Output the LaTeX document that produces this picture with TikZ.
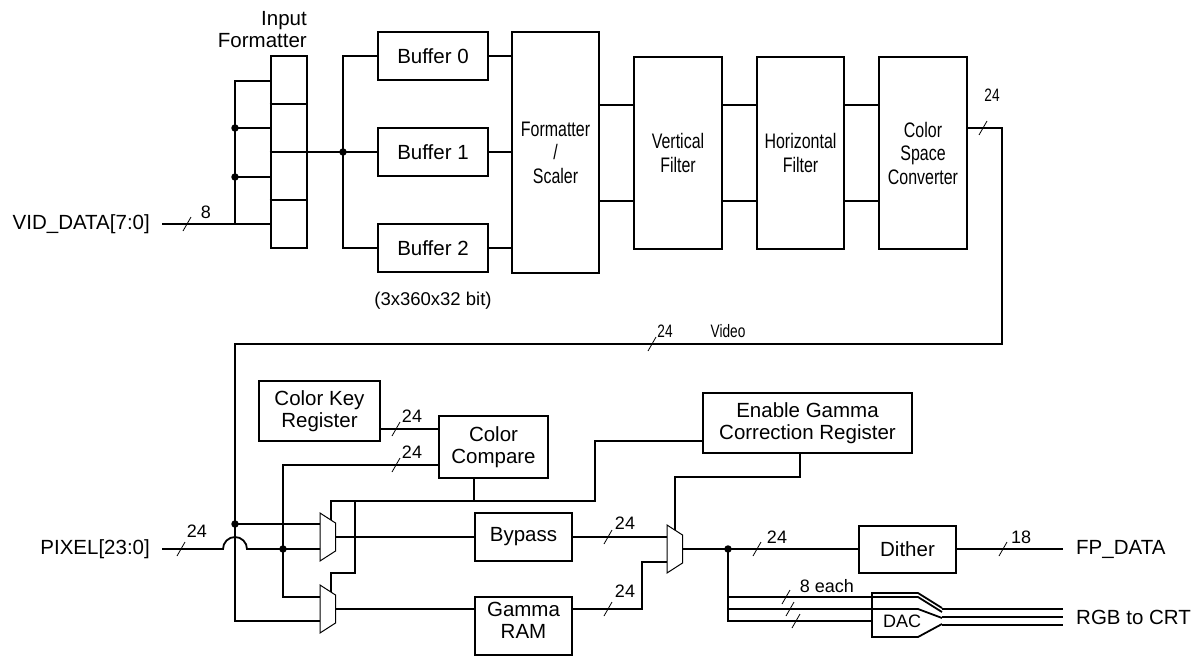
\documentclass[tikz,border=0pt]{standalone}
\usepackage{fontspec}
\setmainfont{Liberation Sans}
\newfontfamily\narrowfont{Liberation Sans}[FakeStretch=0.76]
\newcommand\mkslash[1]{\draw[busmark] #1 ++(-4,7) -- ++(8,-14);}
\newcommand\drawmux[2]{\draw[muxline] (#1,#2-24) -- (#1+15.5,#2-14) -- (#1+15.5,#2+14) -- (#1,#2+24) -- cycle;}
\begin{document}
\begin{tikzpicture}[x=1pt,y=-1pt,
  box/.style={draw, line width=2.6pt, inner sep=0pt, align=center, font=\fontsize{20.5}{22}\selectfont},
  bigbox/.style={draw, line width=2.6pt, inner sep=0pt, align=center, font=\narrowfont\fontsize{21}{23.5}\selectfont},
  wire/.style={line width=1.8pt},
  thinwire/.style={line width=1.1pt},
  muxline/.style={line width=1pt, line join=miter},
  busmark/.style={line width=0.8pt},
  lbl/.style={font=\fontsize{18}{20}\selectfont, inner sep=0pt},
  nlbl/.style={font=\narrowfont\fontsize{18}{20}\selectfont, inner sep=0pt},
  txt/.style={font=\fontsize{20.5}{22}\selectfont, inner sep=0pt},
  junction/.style={circle, fill, inner sep=0pt, minimum size=7.5pt}
]
\useasboundingbox (0,0) rectangle (1197,656);

% ---------------- upper part ----------------
\node[box, minimum width=36pt, minimum height=192pt] (ifmt) at (289,152) {};
\foreach \yy in {104,152,200}
  \draw[line width=2.6pt] (ifmt.west |- 0,\yy) -- (ifmt.east |- 0,\yy);
\node[txt, align=right, anchor=east] (iflbl) at (307,29.5) {Input\\Formatter};

\node[box, minimum width=110pt, minimum height=48pt] (buf0) at (433,56) {Buffer 0};
\node[box, minimum width=110pt, minimum height=48pt] (buf1) at (433,152) {Buffer 1};
\node[box, minimum width=110pt, minimum height=48pt] (buf2) at (433,248) {Buffer 2};
\node[lbl, font=\fontsize{18.5}{20}\selectfont] (bufsz) at (433,301) {(3x360x32 bit)};

\node[bigbox, minimum width=87pt, minimum height=241pt] (fs) at (555.5,152.5) {Formatter\\/\\Scaler};
\node[bigbox, minimum width=88pt, minimum height=192pt] (vf) at (678,153) {Vertical\\Filter};
\node[bigbox, minimum width=87pt, minimum height=192pt] (hf) at (800.5,153) {Horizontal\\Filter};
\node[bigbox, minimum width=88pt, minimum height=192pt] (csc) at (923,153) {Color\\Space\\Converter};

% input
\node[txt, anchor=east] (vidlbl) at (150,224) {VID\_DATA[7:0]};
\coordinate (vidin) at (162,224);
\coordinate (ibus) at (235,224);
\draw[wire] (vidin) -- (ifmt.west |- vidin);
\draw[wire] (ifmt.west |- 0,81) -| (ibus);
\draw[wire] (235,128) -- (ifmt.west |- 0,128);
\draw[wire] (235,177) -- (ifmt.west |- 0,177);
\node[junction] (j1) at (235,128) {};
\node[junction] (j2) at (235,177) {};
\mkslash{(187,224)}
\node[lbl] (l8) at (206,212) {8};

% formatter to buffers
\coordinate (bjn) at (343,152);
\draw[thinwire] (ifmt.east |- bjn) -- (bjn) -- (buf1.west);
\draw[thinwire] (buf0.west) -| (bjn) |- (buf2.west);
\node[junction] (j3) at (bjn) {};
\draw[thinwire] (buf0.east) -- (fs.west |- buf0.east);
\draw[thinwire] (buf1.east) -- (fs.west |- buf1.east);
\draw[thinwire] (buf2.east) -- (fs.west |- buf2.east);

% pipeline
\foreach \a/\b in {fs/vf, vf/hf, hf/csc}{
  \draw[wire] (\a.east |- 0,105) -- (\b.west |- 0,105);
  \draw[wire] (\a.east |- 0,201) -- (\b.west |- 0,201);
}

% video bus
\coordinate (vr) at (1002,344);
\coordinate (vl) at (235,344);
\coordinate (vjn) at (235,524);
\coordinate (vb) at (235,621);
\coordinate (m1i1) at (320,524);
\coordinate (m1i2) at (320,549);
\coordinate (m1o) at (335.5,537);
\coordinate (m1s) at (331,520.1);
\coordinate (m2i1) at (320,597);
\coordinate (m2i2) at (320,621);
\coordinate (m2o) at (335.5,609);
\coordinate (m2s) at (331,592.1);
\coordinate (m3i1) at (667,537);
\coordinate (m3i2) at (667,562);
\coordinate (m3o) at (682.5,549);
\coordinate (m3s) at (675,530.2);

\draw[wire] (csc.east |- 0,128) -| (vr) -- (vl) -- (vb) -- (m2i2);
\draw[wire] (vjn) -- (m1i1);
\node[junction] (j4) at (vjn) {};
\mkslash{(983,128)}
\node[nlbl] (l24a) at (992,95) {24};
\mkslash{(652,344)}
\node[nlbl] (l24b) at (665,331) {24};
\node[nlbl] (vidtxt) at (728,331) {Video};

% ---------------- lower part ----------------
\node[box, minimum width=121pt, minimum height=60pt] (ckr) at (319.5,411) {Color Key\\Register};
\node[box, minimum width=109pt, minimum height=62pt] (cc) at (493.5,447) {Color\\Compare};
\node[box, minimum width=209pt, minimum height=60pt] (eg) at (807.5,423) {Enable Gamma\\Correction Register};
\node[box, minimum width=97pt, minimum height=48pt] (byp) at (523.5,537) {Bypass};
\node[box, minimum width=97pt, minimum height=58pt] (gram) at (523.5,626) {};
\node[txt, align=center] (gramtxt) at (523.5,620) {Gamma\\RAM};
\node[box, minimum width=97pt, minimum height=47pt] (dith) at (907.5,549.5) {Dither};

\drawmux{320}{537}
\drawmux{320}{609}
\drawmux{667}{549}

% pixel input with hop
\node[txt, anchor=east] (pxlbl) at (150,549) {PIXEL[23:0]};
\coordinate (pxin) at (162,549);
\coordinate (pj) at (283,549);
\draw[wire] (pxin) -- (223,549) arc[start angle=180, end angle=0, radius=12pt] -- (pj) -- (m1i2);
\node[junction] (j5) at (pj) {};
\mkslash{(181,549)}
\node[lbl] (l24c) at (197,531) {24};

% color key / compare inputs
\coordinate (cmpin) at (283,465);
\coordinate (m2a) at (283,597);
\draw[wire] (cc.west |- cmpin) -- (cmpin) -- (m2a) -- (m2i1);
\draw[wire] (ckr.east |- 0,429) -- (cc.west |- 0,429);
\mkslash{(396,429)}
\node[lbl] (l24d) at (412,416) {24};
\mkslash{(396,465)}
\node[lbl] (l24e) at (412,452) {24};

% select lines
\coordinate (sl) at (331,501);
\coordinate (sr) at (595,501);
\draw[wire] (m1s) -- (sl) -- (sr) |- (eg.west |- 0,441);
\draw[wire] (cc.south -| 474,0) -- (474,501);
\draw[wire] (355,501) -- (355,573) -- (331,573) -- (m2s);

% mux outputs
\draw[wire] (m1o) -- (byp.west |- m1o);
\draw[wire] (m2o) -- (gram.west |- m2o);
\draw[wire] (byp.east) -- (m3i1);
\draw[wire] (gram.east |- m2o) -- (642,609) |- (m3i2);
\mkslash{(608,537)}
\node[lbl] (l24f) at (625,523) {24};
\mkslash{(608,609)}
\node[lbl] (l24g) at (625,591) {24};

% gamma select
\draw[thinwire] (m3s) -- (675,477) -| (eg.south -| 800,0);

% output
\coordinate (dj) at (728,549);
\coordinate (fpout) at (1063,549);
\draw[wire] (m3o) -- (dj) -- (dith.west |- dj);
\draw[wire] (dith.east |- dj) -- (fpout);
\node[junction] (j6) at (dj) {};
\mkslash{(757,549)}
\node[lbl] (l24h) at (777,537) {24};
\mkslash{(1003,549)}
\node[lbl] (l18) at (1021,537) {18};
\node[txt, anchor=west] (fplbl) at (1076,549) {FP\_DATA};

% DAC
\draw[wire] (dj) -- (728,621) -- (872,621);
\draw[wire] (728,597) -- (918,597) -- (942,612);
\draw[wire] (728,609) -- (918,609) -- (942,618);
\draw[wire, line join=miter] (942,608) -- (918,593) -- (872,593) -- (872,637) -- (918,637) -- (942,624);
\draw[wire] (942,609) -- (1063,609);
\draw[wire] (942,617) -- (1063,617);
\draw[wire] (942,625) -- (1063,625);
\node[lbl] (daclbl) at (902,621.5) {DAC};
\node[lbl] (eachlbl) at (827,586) {8 each};
\mkslash{(786,597)}
\mkslash{(790,609)}
\mkslash{(796,621)}
\node[txt, anchor=west] (rgblbl) at (1076,617) {RGB to CRT};
\end{tikzpicture}
\end{document}
